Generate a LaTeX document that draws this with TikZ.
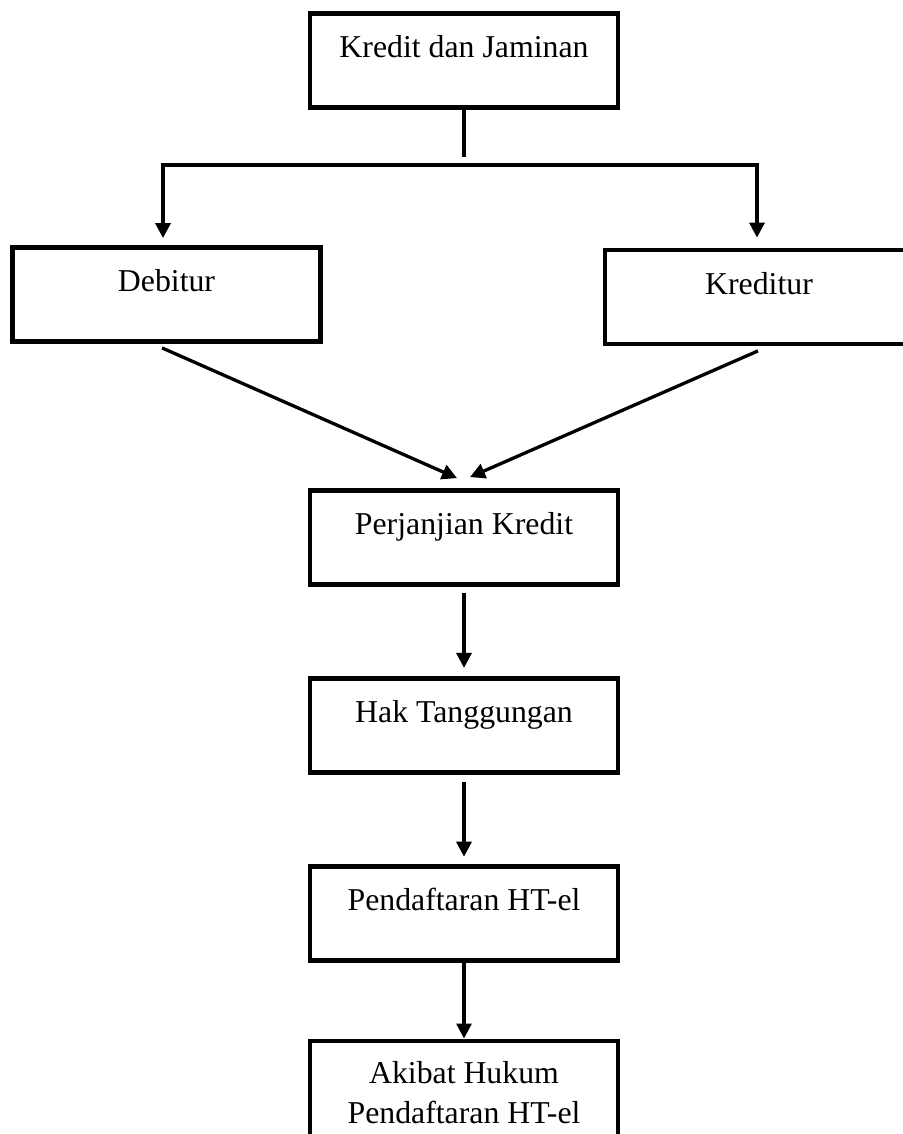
\documentclass[tikz,border=0pt]{standalone}
\usepackage{fontspec}
\setmainfont{Liberation Serif}
\usetikzlibrary{positioning, arrows.meta}

\begin{document}
\begin{tikzpicture}[
    x=1pt, y=-1pt,
    node distance=89pt,
    kb/.style={rectangle, draw=black, line width=4.8pt, minimum width=308pt,
               inner sep=0pt, font=\fontsize{31.8pt}{40pt}\selectfont},
    k/.style={kb, minimum height=94pt, text height=44pt, text depth=50pt},
    a/.style={-{Triangle[length=15pt,width=15pt]}, line width=3.3pt}
  ]
  \path[use as bounding box, fill=white] (0,0) rectangle (902,1134);
  \node[k] (kj) at (464,60.5) {Kredit dan Jaminan};
  \node[k] (deb) at (166.5,294.5) {Debitur};
  \node[k] (kre) at (759,297) {Kreditur};
  \node[k] (pk) at (464,537.5) {Perjanjian Kredit};
  \node[k, below=of pk] (ht) {Hak Tanggungan};
  \node[k, below=of ht] (daf) {Pendaftaran HT-el};
  \node[kb, align=center, minimum height=103pt, below=76pt of daf] (akb) {Akibat Hukum\\Pendaftaran HT-el};
  % cabang atas
  \coordinate (cab) at (464,157);
  \coordinate (kiri) at (163,165);
  \coordinate (kanan) at (757,165);
  \draw[line width=3.3pt] (kj) -- (cab);
  \draw[a, shorten >=7pt] (kanan) -- (kiri) -- (kiri |- deb.north);
  \draw[a, shorten >=10pt] (kiri) -- (kanan) -- (kanan |- kre.north);
  \draw[a] ([xshift=-4.5pt,yshift=-4pt]deb.south) -- ([xshift=-7pt,yshift=10pt]pk.north);
  \draw[a] ([xshift=-1pt,yshift=-4.5pt]kre.south) -- ([xshift=6pt,yshift=11pt]pk.north);
  \draw[a, shorten <=6pt, shorten >=8pt] (pk) -- (ht);
  \draw[a, shorten <=7pt, shorten >=7pt] (ht) -- (daf);
  \draw[a] (daf) -- (akb);
\end{tikzpicture}
\end{document}
